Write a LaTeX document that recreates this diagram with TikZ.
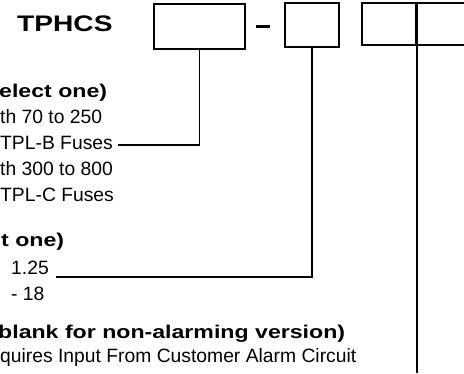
\documentclass[tikz,border=0pt]{standalone}
\usepackage{fontspec}
\setmainfont{Liberation Sans}
\newfontface\widebold{Liberation Sans Bold}[FakeStretch=1.25]
\tikzset{
  codebox/.style={draw, line width=2pt, inner sep=0pt},
  leader/.style={line width=1.6pt},
  lbl/.style={anchor=base west, inner sep=0pt, font=\fontsize{19.3}{20}\selectfont},
  head/.style={anchor=base west, inner sep=0pt, font=\fontsize{18.5}{19}\widebold},
}
\begin{document}
\begin{tikzpicture}[x=1pt,y=-1pt]
        \useasboundingbox (0,0) rectangle (464,373);
        \clip (0,0) rectangle (464,373);
        % part number boxes
        \node [anchor=base west, inner sep=0pt, font=\fontsize{22.5}{23}\widebold] (title) at (17,31) {TPHCS};
        \node [codebox, minimum width=91pt, minimum height=45pt] (b1) at (199.5,26.5) {};
        \draw [line width=3pt] (256,26) -- (270,26);
        \node [codebox, minimum width=54pt, minimum height=44pt] (b2) at (312,25) {};
        \node [codebox, minimum width=54pt, minimum height=42pt] (b3) at (389,24) {};
        \node [codebox, minimum width=54pt, minimum height=42pt] (b4) at (443,24) {};
        % option texts
        \node [head] (h1) at (-1,97) {elect one)};
        \node [lbl] (t1) at (0,123) {th 70 to 250};
        \node [lbl] (t2) at (0,149) {TPL-B Fuses};
        \node [lbl] (t3) at (0,175) {th 300 to 800};
        \node [lbl] (t4) at (0,201) {TPL-C Fuses};
        \node [head] (h2) at (1,246) {t one)};
        \node [lbl] (t5) at (11,274) {1.25};
        \node [lbl] (t6) at (11,300) {- 18};
        \node [head] (h3) at (-2,338) {blank for non-alarming version)};
        \node [lbl] (t7) at (0,362) {quires Input From Customer Alarm Circuit};
        % leaders
        \coordinate (e1) at (118,145);
        \coordinate (e2) at (56,277);
        \coordinate (e3) at (417,373);
        \draw [leader] (b1.south) |- (e1);
        \draw [leader] (b2.south) |- (e2);
        \draw [leader] (b3.north east) -- (e3);
\end{tikzpicture}
\end{document}
